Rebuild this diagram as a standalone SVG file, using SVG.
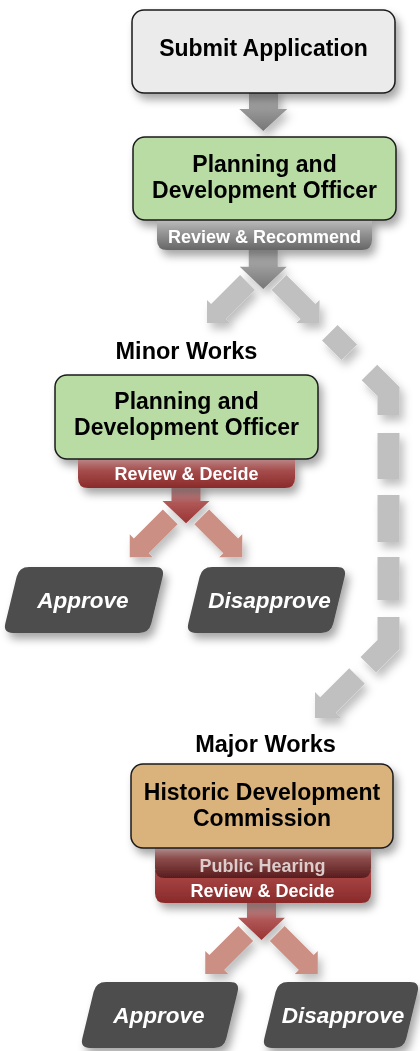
<svg xmlns="http://www.w3.org/2000/svg" xmlns:xlink="http://www.w3.org/1999/xlink" width="420" height="1051" viewBox="0 0 420 1051">
<style>
.t{font-family:"Liberation Sans",Arial,sans-serif;font-weight:700;text-anchor:middle;fill:#000}
.box{font-size:23px}
.tab{font-size:18px;fill:#fff}
.lbl{font-size:23.5px}
.out{font-size:22.5px;font-style:italic;fill:#fff}
.bx{stroke:#1a1a1a;stroke-width:1.5}
.par{fill:#4d4d4d}
</style>
<defs>
<filter id="sh" x="-20%" y="-20%" width="150%" height="160%">
<feDropShadow dx="4" dy="6" stdDeviation="4" flood-color="#000" flood-opacity="0.35"/>
</filter>
<filter id="sha" x="-30%" y="-30%" width="170%" height="170%">
<feDropShadow dx="4" dy="6" stdDeviation="4" flood-color="#000" flood-opacity="0.25"/>
</filter>
<linearGradient id="gTab" x1="0" y1="0" x2="0" y2="1">
<stop offset="0" stop-color="#d6d6d6"/><stop offset="0.5" stop-color="#9a9a9a"/><stop offset="1" stop-color="#666"/>
</linearGradient>
<linearGradient id="rTab" x1="0" y1="0" x2="0" y2="1">
<stop offset="0" stop-color="#cfb0b0"/><stop offset="0.55" stop-color="#a44c4c"/><stop offset="1" stop-color="#8b2a2a"/>
</linearGradient>
<linearGradient id="phTab" x1="0" y1="0" x2="0" y2="1">
<stop offset="0" stop-color="#cdbcbc"/><stop offset="0.5" stop-color="#8a4a4a"/><stop offset="1" stop-color="#5a1c1c"/>
</linearGradient>
<linearGradient id="rdTab" x1="0" y1="0" x2="0" y2="1">
<stop offset="0" stop-color="#ad4a4a"/><stop offset="1" stop-color="#8a2929"/>
</linearGradient>
<linearGradient id="gDown" x1="0" y1="0" x2="0" y2="1">
<stop offset="0" stop-color="#b8b8b8"/><stop offset="1" stop-color="#777"/>
</linearGradient>
<linearGradient id="rDown" x1="0" y1="0" x2="0" y2="1">
<stop offset="0" stop-color="#d0b4b4"/><stop offset="0.5" stop-color="#b05656"/><stop offset="1" stop-color="#9a3434"/>
</linearGradient>
<polygon id="dl" points="-56.25,34 -56.25,11 -52.15,15.1 -23.15,-13.9 -8.35,0.9 -37.35,29.9 -33.25,34"/>
<polygon id="dr" points="56.25,34 56.25,11 52.15,15.1 23.15,-13.9 8.35,0.9 37.35,29.9 33.25,34"/>
<polygon id="dd" points="-14.5,-40 14.5,-40 14.5,-22.3 23.5,-22.3 0,0 -23.5,-22.3 -14.5,-22.3"/>
</defs>

<g id="connectors" filter="url(#sha)">
<polygon fill="url(#gDown)" points="249,88 278,88 278,109 287.3,109 263.3,131 239.3,109 249,109"/>
<g transform="translate(263.25,289)">
<use href="#dl" fill="#c1c0c0"/><use href="#dr" fill="#c1c0c0"/><use href="#dd" fill="url(#gDown)"/>
</g>
<path d="M329.8,332.8 L388.5,391.5 L388.5,644.5 L368.3,664.7" stroke="#c1c0c0" stroke-width="22" fill="none" stroke-dasharray="27.5 28.6 50.5 18 46 16 47 15 43 17 56 100" stroke-linejoin="miter"/>
<polygon fill="#c1c0c0" points="315,718 315,692 320.2,697.2 349.2,668.2 364.8,683.8 335.8,712.8 341,718"/>
<g transform="translate(186,523.3)">
<use href="#dl" fill="#cc8f84"/><use href="#dr" fill="#cc8f84"/><use href="#dd" fill="url(#rDown)"/>
</g>
<g transform="translate(261.5,940)">
<use href="#dl" fill="#cc8f84"/><use href="#dr" fill="#cc8f84"/><use href="#dd" fill="url(#rDown)"/>
</g>
</g>

<g id="submit" filter="url(#sh)">
<rect class="bx" x="132" y="10" width="263" height="83" rx="12" fill="#ebebeb"/>
<text class="t box" x="263.5" y="55.5">Submit Application</text>
</g>

<g id="pdo1" filter="url(#sh)">
<path d="M157,212 H372 V240 Q372,250 362,250 H167 Q157,250 157,240 Z" fill="url(#gTab)"/>
<rect class="bx" x="133" y="137" width="263" height="83" rx="12" fill="#b9dca5"/>
<text class="t box" x="264.5" y="171.5">Planning and</text>
<text class="t box" x="264.5" y="197.5">Development Officer</text>
<text class="t tab" x="264.5" y="242.5">Review &amp; Recommend</text>
</g>

<g id="minor-label"><text class="t lbl" x="186.5" y="359">Minor Works</text></g>

<g id="pdo2" filter="url(#sh)">
<path d="M78,450 H295 V478 Q295,488 285,488 H88 Q78,488 78,478 Z" fill="url(#rTab)"/>
<rect class="bx" x="55" y="375" width="263" height="84" rx="12" fill="#b9dca5"/>
<text class="t box" x="186.5" y="409">Planning and</text>
<text class="t box" x="186.5" y="435">Development Officer</text>
<text class="t tab" x="186.5" y="479.5">Review &amp; Decide</text>
</g>

<g id="approve1" filter="url(#sh)">
<path class="par" d="M29,567 H155 Q165,567 162.64,576.72 L151.36,623.28 Q149,633 139,633 H13 Q3,633 5.36,623.28 L16.64,576.72 Q19,567 29,567 Z"/>
<text class="t out" x="83" y="607.5">Approve</text>
</g>
<g id="disapprove1" filter="url(#sh)">
<path class="par" d="M212,567 H337 Q347,567 344.64,576.72 L333.36,623.28 Q331,633 321,633 H196 Q186,633 188.36,623.28 L199.64,576.72 Q202,567 212,567 Z"/>
<text class="t out" x="269.5" y="607.5">Disapprove</text>
</g>

<g id="major-label"><text class="t lbl" x="265.5" y="752">Major Works</text></g>

<g id="hdc" filter="url(#sh)">
<path d="M155,870 H371 V893 Q371,903 361,903 H165 Q155,903 155,893 Z" fill="url(#rdTab)"/>
<path d="M155,840 H371 V868 Q371,878 361,878 H165 Q155,878 155,868 Z" fill="url(#phTab)"/>
<rect class="bx" x="131" y="764" width="262" height="84" rx="12" fill="#d9b27c"/>
<text class="t box" x="262" y="800">Historic Development</text>
<text class="t box" x="262" y="826">Commission</text>
<text class="t tab" x="262.5" y="872" style="fill:#dccccc">Public Hearing</text>
<text class="t tab" x="262.5" y="897">Review &amp; Decide</text>
</g>

<g id="approve2" filter="url(#sh)">
<path class="par" d="M106,982 H230 Q240,982 237.64,991.72 L226.36,1038.28 Q224,1048 214,1048 H90 Q80,1048 82.36,1038.28 L93.64,991.72 Q96,982 106,982 Z"/>
<text class="t out" x="159" y="1022.5">Approve</text>
</g>
<g id="disapprove2" filter="url(#sh)">
<path class="par" d="M288,982 H410 Q420,982 417.64,991.72 L406.36,1038.28 Q404,1048 394,1048 H272 Q262,1048 264.36,1038.28 L275.64,991.72 Q278,982 288,982 Z"/>
<text class="t out" x="343" y="1022.5">Disapprove</text>
</g>
</svg>
